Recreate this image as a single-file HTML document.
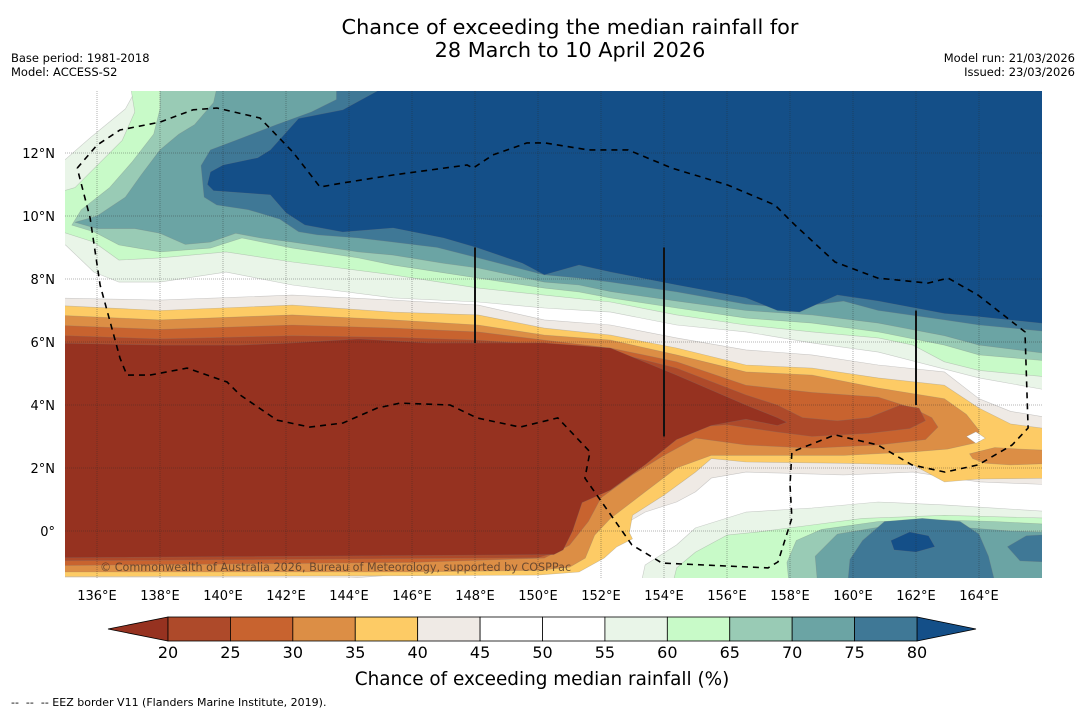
<!DOCTYPE html>
<html><head><meta charset="utf-8"><style>
body{margin:0;background:#fff;font-family:"Liberation Sans","DejaVu Sans",sans-serif}
svg text{font-family:"DejaVu Sans","Liberation Sans",sans-serif}
</style></head><body>
<svg id="c" width="1085" height="713" viewBox="0 0 1085 713" xmlns="http://www.w3.org/2000/svg">
<defs><clipPath id="mc"><rect x="65" y="91" width="977" height="487"/></clipPath></defs>
<rect width="1085" height="713" fill="#fff"/>
<text x="570" y="34" text-anchor="middle" font-size="20.8">Chance of exceeding the median rainfall for</text>
<text x="570" y="57" text-anchor="middle" font-size="20.8">28 March to 10 April 2026</text>
<text x="11" y="62" font-size="11.5">Base period: 1981-2018</text>
<text x="11" y="76" font-size="11.5">Model: ACCESS-S2</text>
<text x="1075" y="62" font-size="11.5" text-anchor="end">Model run: 21/03/2026</text>
<text x="1075" y="76" font-size="11.5" text-anchor="end">Issued: 23/03/2026</text>
<g id="map" clip-path="url(#mc)"></g>
<g id="axes"></g>
<g id="cbar"></g>
<text x="542" y="685" text-anchor="middle" font-size="18.4">Chance of exceeding median rainfall (%)</text>
<text x="11" y="706" font-size="11" xml:space="preserve" style="white-space:pre">--  --  -- EEZ border V11 (Flanders Marine Institute, 2019).</text>
</svg>
<script>
const levels=[20,25,30,35,40,45,50,55,60,65,70,75,80];
const bandColors=["#ae4a2a","#c8632f","#dc8e45","#fdcb65","#efeae5","#ffffff","#ffffff","#e9f5e8","#c8fac8","#99cbb5","#6ba4a4","#3f7896"];
const underColor="#963220";
const overColor="#144f88";
const lonTicks=[136,138,140,142,144,146,148,150,152,154,156,158,160,162,164];
const latTicks=[0,2,4,6,8,10,12];
const regN55=[[135,11.8],[135.8,12.5],[136.9,13.4],[137.5,14.5],[166.5,14.5],[166.5,4.41],[164,4.86],[160.8,5.68],[158.7,5.97],[156.6,6.32],[154.4,6.54],[152.3,6.95],[150.2,7.08],[148.1,7.27],[145.4,7.4],[142.2,7.81],[140.1,8.22],[138,7.9],[136.7,7.9],[135.9,8.22],[135,9.08],[134.5,9.08],[134.5,11.8]];
const regN60=[[137,14.5],[137.2,13.3],[136.8,12.4],[136,11.6],[135.3,10.9],[134.5,10.67],[134.5,9.62],[135.9,9.17],[136.7,8.6],[138,8.67],[140.1,8.86],[142.2,8.54],[145.4,8.13],[148.1,7.71],[150.2,7.49],[152.3,7.27],[154.4,6.86],[156.6,6.54],[158.7,6.32],[160.8,6.13],[161.9,5.9],[162.9,5.37],[164,5.1],[166.5,4.86],[166.5,14.5]];
const regN65=[[138,14.5],[138,13.4],[137.8,12.6],[137.1,11.7],[136.4,10.9],[135.5,10.2],[135.2,9.71],[135.9,9.5],[136.7,9.08],[138,8.86],[139.6,8.98],[140.6,9.3],[142.2,8.98],[144.3,8.67],[145.4,8.44],[148.1,8.03],[150.2,7.71],[151.3,7.59],[152.3,7.4],[154.4,7.08],[156.6,6.76],[158.7,6.6],[160.8,6.32],[162.9,5.9],[164,5.59],[166.5,5.37],[166.5,14.5]];
const regN70=[[139.9,14.5],[139.7,13.6],[139.1,12.9],[138.6,12.6],[138,12.1],[137.4,11.3],[136.9,10.6],[136,10],[135.3,9.8],[136,9.6],[137.2,9.6],[138,9.45],[138.8,9.1],[139.6,9.17],[140.4,9.45],[141.2,9.3],[142.2,9.17],[144.3,8.86],[145.4,8.76],[147,8.5],[148.1,8.35],[150.2,7.9],[151.3,7.81],[152.3,7.6],[154.4,7.3],[156.6,7],[158.7,6.86],[160.8,6.6],[162.9,6.2],[164,5.9],[166.5,5.59],[166.5,14.5]];
const regN75=[[143.6,14.5],[143.6,13.7],[142.8,13.3],[141.7,12.9],[140.4,12.4],[139.6,12.1],[139.3,11.6],[139.4,10.6],[139.8,10.35],[140.8,10.2],[141.8,9.9],[142.4,9.5],[143,9.4],[144.3,9.3],[145.4,9.17],[146.8,9],[148.1,8.67],[150.2,8.13],[151.3,8.03],[152.3,7.9],[154.4,7.59],[156.6,7.2],[157.8,7.1],[158.7,7.17],[159.7,7.3],[160.8,7],[162.9,6.7],[164,6.54],[166.5,6.3],[166.5,14.5]];
const regN80=[[144.9,14.5],[144.9,13.97],[143.8,13.37],[142.4,13.1],[141.5,12.1],[141.1,11.85],[140,11.62],[139.6,11.4],[139.5,11],[139.7,10.8],[141.5,10.67],[142,10.1],[142.6,9.71],[143.8,9.49],[145.4,9.62],[147,9.3],[148.1,8.98],[149.5,8.5],[150.2,8.13],[151.3,8.44],[152.3,8.22],[154.4,7.81],[156.6,7.4],[157.6,7.0],[158.3,6.95],[159.5,7.49],[160.8,7.3],[162.9,6.9],[164,6.8],[166.5,6.54],[166.5,14.5]];
const regL45=[[134.5,7.4],[138,7.33],[142.2,7.49],[145.4,7.33],[148.1,7.17],[150.2,6.7],[152.3,6.54],[154.4,6.13],[156.6,5.75],[158.7,5.59],[160.8,5.27],[162.9,5.05],[164,4.2],[165,3.8],[166.5,3.55],[166.5,1.46],[164,1.56],[161.9,1.87],[159.7,1.78],[156.6,1.87],[155.5,1.68],[155,1.24],[154.4,0.92],[153.4,0.6],[152.7,0.19],[152.1,-0.44],[151.5,-1.17],[150.5,-1.3],[146,-1.35],[144,-1.5],[134.5,-1.6]];
const regL40=[[134.5,7.17],[138,7.0],[142.2,7.17],[145.4,6.95],[148.1,6.86],[150.2,6.44],[152.3,6.22],[154.4,5.81],[156.6,5.27],[158.7,5.17],[160.8,4.86],[162.9,4.63],[164,3.9],[165,3.4],[166.5,3.2],[166.5,1.68],[164,1.65],[162.9,1.56],[161.9,2.1],[159.7,2.15],[156.6,2.19],[155.5,2.3],[155,1.87],[154,1.14],[153,0.5],[152.9,-0.05],[153,-0.25],[152.5,-0.5],[152.1,-0.86],[151.3,-1.3],[150,-1.4],[146,-1.42],[134.5,-1.45]];
const regL35=[[134.5,6.86],[138,6.7],[142.2,6.86],[145.4,6.7],[148.1,6.54],[150.2,6.22],[152.3,6.06],[154.4,5.59],[156.6,5.05],[158.7,4.95],[160.8,4.54],[162.9,4.2],[163.6,3.7],[164,3.2],[163.9,2.8],[163,2.6],[161.9,2.51],[159.7,2.4],[156.6,2.4],[155.5,2.4],[154.4,2.0],[153.4,1.24],[152.3,0.4],[151.8,-0.13],[151.5,-0.86],[151,-1.15],[150,-1.25],[146,-1.3],[134.5,-1.3]];
const regL35b=[[163.7,2.45],[164.5,2.65],[165.3,2.6],[166.5,2.55],[166.5,2.15],[165,2.1],[164.2,2.15],[163.8,2.3]];
const regL30=[[134.5,6.54],[138,6.4],[142.2,6.54],[145.4,6.44],[148.1,6.32],[150.2,6.06],[152.3,5.81],[154.4,5.37],[156.6,4.63],[158.7,4.4],[160.8,4.25],[161.9,3.9],[162.5,3.6],[162.7,3.3],[162.3,2.9],[160.8,2.73],[158.7,2.63],[156.6,2.73],[155,2.95],[154,2.4],[153,1.78],[152,1.05],[151.6,0.3],[151,-0.45],[150.2,-0.86],[146,-1.0],[134.5,-1.1]];
const regL25=[[134.5,6.22],[138,6.1],[142.2,6.2],[145.4,6.15],[148.1,6.06],[150.2,5.9],[152.3,5.7],[154.4,5.17],[156.6,4.32],[157.6,4.0],[158.4,3.6],[159.5,3.5],[160.5,3.6],[161.5,4.0],[162.1,3.9],[162.3,3.5],[161.8,3.25],[160.5,3.1],[158.7,3.0],[157.6,3.14],[156,3.37],[154.6,3.27],[153.6,2.63],[152.6,2.1],[151.8,1.46],[151.3,0.83],[151.1,0.1],[150.6,-0.67],[150,-0.85],[134.5,-0.95]];
const regL20=[[134.5,5.97],[138,5.9],[140.5,5.9],[142.2,5.97],[144.3,6.1],[146.5,5.97],[150.2,5.97],[152.3,5.81],[154.4,4.95],[156.6,4.0],[157.6,3.6],[157.9,3.45],[157.6,3.35],[156.6,3.55],[155.5,3.35],[154.4,2.9],[153.4,2.1],[152.3,1.3],[151.4,0.9],[151.1,0.0],[150.8,-0.6],[150.5,-0.75],[134.5,-0.85]];
const regWhiteHole=[[163.6,3.0],[163.9,3.15],[164.2,2.95],[163.9,2.78]];
const regS55=[[153.2,-2],[153.4,-1.08],[154.4,-0.44],[155,0.1],[156.6,0.6],[158.7,0.73],[160.8,0.92],[162.9,0.83],[166.5,0.6],[166.5,-2]];
const regS60=[[154.2,-2],[154.4,-1.17],[155,-0.67],[156,-0.13],[157,-0.03],[158.7,0.19],[160.3,0.4],[162.9,0.5],[166.5,0.4],[166.5,-2]];
const regS65=[[158,-2],[157.9,-1.0],[158.2,-0.3],[159,0.05],[160.8,0.3],[162.9,0.35],[164.5,0.3],[166.5,0.2],[166.5,-2]];
const regS70=[[158.9,-2],[158.8,-0.8],[159.5,-0.1],[161,0.15],[163,0.15],[165,0.0],[166.5,-0.05],[166.5,-2]];
const regS75=[[159.8,-2],[159.9,-0.9],[160.3,-0.3],[161,0.3],[162.2,0.4],[163.4,0.3],[164,-0.1],[164.3,-0.8],[164.6,-2]];
const regS75b=[[166.5,-0.1],[165.5,-0.15],[164.9,-0.5],[165.3,-0.95],[166.5,-1.0]];
const regS80=[[161.2,-0.3],[161.8,-0.03],[162.4,-0.15],[162.6,-0.5],[162,-0.67],[161.3,-0.6]];
const eezBorder=[[135.37,11.52],[136.0,12.25],[136.73,12.73],[138.0,12.98],[139.05,13.37],[139.81,13.43],[141.17,13.11],[142.22,12.03],[143.08,10.92],[143.81,11.05],[145.4,11.3],[147.75,11.62],[147.94,11.52],[148.57,11.94],[149.65,12.32],[150.22,12.32],[151.59,12.1],[152.86,12.1],[154.25,11.52],[156.03,10.98],[157.52,10.35],[158.16,9.71],[159.43,8.54],[160.79,8.03],[162.38,7.87],[163.02,8.03],[163.97,7.49],[165.46,6.32],[165.56,3.27],[165.05,2.73],[163.97,2.1],[162.92,1.87],[161.87,2.1],[160.79,2.73],[159.43,3.05],[158.06,2.51],[158.0,1.46],[158.06,0.41],[157.62,-0.98],[157.3,-1.17],[153.94,-1.02],[152.98,-0.44],[151.49,1.68],[151.65,2.51],[150.63,3.59],[149.43,3.3],[148.06,3.59],[147.21,4.0],[145.62,4.06],[144.89,3.9],[143.81,3.43],[142.76,3.3],[141.71,3.52],[140.54,4.32],[140.13,4.73],[138.86,5.17],[137.68,4.95],[136.95,4.95],[136.73,5.49],[136.1,7.81],[135.78,9.94],[135.37,11.52]];
const meridianSegs=[[148,9.0,5.97],[154,9.0,3.0],[162,7.0,4.0]];

const NS="http://www.w3.org/2000/svg";
const X=lon=>97+(lon-136)*31.5;
const Y=lat=>531-lat*31.5;
function mk(tag,attrs,parent){const e=document.createElementNS(NS,tag);for(const k in attrs)e.setAttribute(k,attrs[k]);parent.appendChild(e);return e;}
const map=document.getElementById('map');
const bg=mk('rect',{x:65,y:91,width:977,height:487,fill:'#ffffff'},map);


const layers=[
 ['n55',regN55,bandColors[7]],['n60',regN60,bandColors[8]],['n65',regN65,bandColors[9]],['n70',regN70,bandColors[10]],['n75',regN75,bandColors[11]],['n80',regN80,overColor],
 ['l45',regL45,bandColors[4]],['l40',regL40,bandColors[3]],['l35',regL35,bandColors[2]],['l35b',regL35b,bandColors[2]],['l30',regL30,bandColors[1]],['l25',regL25,bandColors[0]],['l20',regL20,underColor],['white-hole',regWhiteHole,'#ffffff'],
 ['s55',regS55,bandColors[7]],['s60',regS60,bandColors[8]],['s65',regS65,bandColors[9]],['s70',regS70,bandColors[10]],['s75',regS75,bandColors[11]],['s75b',regS75b,bandColors[11]],['s80',regS80,overColor]
];
layers.forEach(([nm,pts,col])=>{
 const p=mk('polygon',{points:pts.map(q=>X(q[0]).toFixed(1)+','+Y(q[1]).toFixed(1)).join(' '),fill:col,stroke:'rgba(120,120,120,0.35)','stroke-width':0.6,'stroke-linejoin':'round'},map);
 
 
});
lonTicks.forEach(l=>{const g=mk('line',{x1:X(l),x2:X(l),y1:91,y2:578,stroke:'rgba(40,40,40,0.45)','stroke-width':0.8,'stroke-dasharray':'1,1'},map);
 
 });
latTicks.forEach(l=>{const g=mk('line',{x1:65,x2:1042,y1:Y(l),y2:Y(l),stroke:'rgba(40,40,40,0.45)','stroke-width':0.8,'stroke-dasharray':'1,1'},map);
 
 });
meridianSegs.forEach(s=>{const g=mk('line',{x1:X(s[0]),x2:X(s[0]),y1:Y(s[1]),y2:Y(s[2]),stroke:'#111','stroke-width':2},map);
 
 });
const eez=mk('polyline',{points:eezBorder.map(q=>X(q[0]).toFixed(1)+','+Y(q[1]).toFixed(1)).join(' '),fill:'none',stroke:'#000','stroke-width':1.6,'stroke-dasharray':'6,5'},map);


const cp=mk('text',{x:100,y:571,'font-size':11.2,fill:'rgba(70,50,40,0.75)'},map);
cp.textContent='© Commonwealth of Australia 2026, Bureau of Meteorology, supported by COSPPac';


const ax=document.getElementById('axes');
lonTicks.forEach(l=>{const t=mk('text',{x:X(l),y:600,'font-size':13,'text-anchor':'middle'},ax);t.textContent=l+'°E';
 
 });
latTicks.forEach(l=>{const t=mk('text',{x:55,y:Y(l)+5,'font-size':13,'text-anchor':'end'},ax);t.textContent=l===0?'0°':l+'°N';
 
 });
const cb=document.getElementById('cbar');
const cx0=168,cx1=917,cy0=617,cy1=641,bw=(cx1-cx0)/bandColors.length;
const tl=mk('polygon',{points:`108,629 ${cx0},${cy0} ${cx0},${cy1}`,fill:underColor,stroke:'#000','stroke-width':0.8},cb);


const tr=mk('polygon',{points:`976,629 ${cx1},${cy0} ${cx1},${cy1}`,fill:overColor,stroke:'#000','stroke-width':0.8},cb);


bandColors.forEach((c,i)=>{const r=mk('rect',{x:cx0+i*bw,y:cy0,width:bw,height:cy1-cy0,fill:c,stroke:'#000','stroke-width':0.8},cb);
 
 });
levels.forEach((v,i)=>{const t=mk('text',{x:cx0+i*bw,y:658,'font-size':16,'text-anchor':'middle'},cb);t.textContent=v;
 
 });
</script>
</body></html>
